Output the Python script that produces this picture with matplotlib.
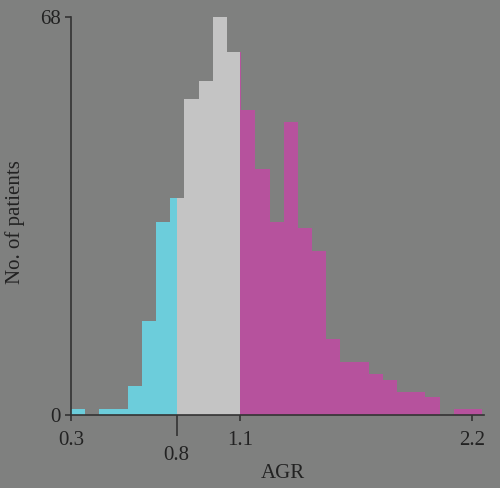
import matplotlib
matplotlib.use("Agg")
import matplotlib.pyplot as plt
import numpy as np

# histogram counts, bins of equal width starting at 0.3
bin_start = 0.3
bin_width = 0.0672
counts = [1, 0, 1, 1, 5, 16, 33, 37, 54, 57, 68, 62, 52, 42, 33,
          50, 32, 28, 13, 9, 9, 7, 6, 4, 4, 3, 0, 1, 1]

# colour groups: below 0.8, 0.8 to 1.1, above 1.1
cuts = [0.3, 0.8, 1.1, 2.3]
colores = ['#6ccddb', '#c4c4c4', '#b6529d']

major_ticks = [0.3, 1.1, 2.2]
minor_ticks = [0.8]
y_ticks = [0, 68]

fondo = '#7f807f'
tinta = '#222222'

plt.rcParams['font.family'] = ['Liberation Serif', 'DejaVu Serif']

fig = plt.figure(figsize=(5.0, 4.88), dpi=100, facecolor=fondo)
ax = fig.add_axes([0.142, 0.1496, 0.826, 0.8162])
ax.set_facecolor(fondo)

edges = bin_start + bin_width * np.arange(len(counts) + 1)

# dibujar cada bin, partido en los cortes de color
for i, c in enumerate(counts):
    if c == 0:
        continue
    lo, hi = edges[i], edges[i + 1]
    for k in range(len(colores)):
        a = max(lo, cuts[k])
        b = min(hi, cuts[k + 1])
        if b > a:
            ax.bar(a, c, width=b - a, align='edge', color=colores[k],
                   linewidth=0)

ax.set_xlim(0.3, 0.3 + 413 / 211)
ax.set_ylim(0, 68)

for s in ['top', 'right']:
    ax.spines[s].set_visible(False)
for s in ['left', 'bottom']:
    ax.spines[s].set_color('#333333')
    ax.spines[s].set_linewidth(1.2)

ax.set_xticks(major_ticks)
ax.set_xticklabels([str(t) for t in major_ticks])
ax.set_xticks(minor_ticks, minor=True)
ax.set_xticklabels([str(t) for t in minor_ticks], minor=True)
ax.set_yticks(y_ticks)

fs = 15
ax.tick_params(axis='x', which='major', length=4.5, width=1.2, pad=7,
               color='#333333', labelsize=fs, labelcolor=tinta)
ax.tick_params(axis='x', which='minor', length=15, width=1.2, pad=7,
               color='#333333', labelsize=fs, labelcolor=tinta)
ax.tick_params(axis='y', length=4.5, width=1.2, pad=3,
               color='#333333', labelsize=fs, labelcolor=tinta)

ax.set_xlabel('AGR', fontsize=fs, color=tinta)
ax.set_ylabel('No. of patients', fontsize=fs, color=tinta)
ax.xaxis.set_label_coords(0.513, -0.123)
ax.yaxis.set_label_coords(-0.112, 0.485)

fig.savefig('out.png', dpi=100, facecolor=fondo)
